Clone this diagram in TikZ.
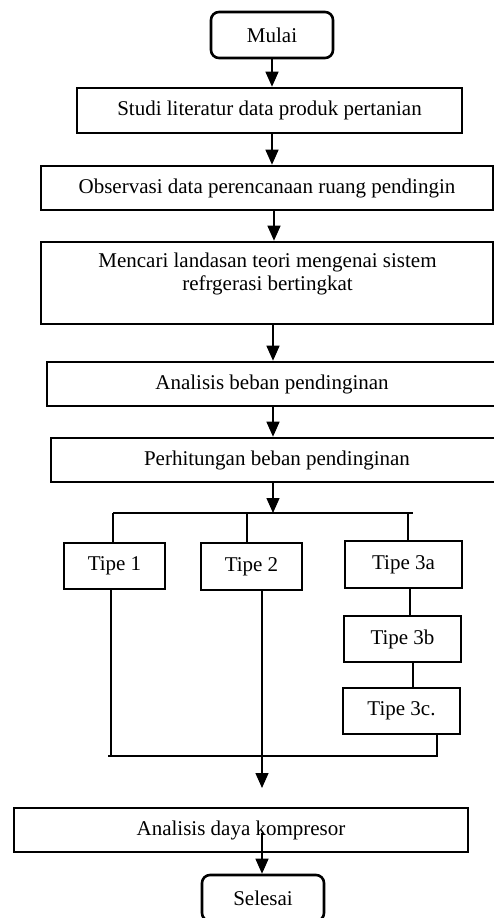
\documentclass[tikz,border=0pt]{standalone}
\usepackage{fontspec}
\setmainfont{Liberation Serif}
\usetikzlibrary{arrows.meta}
\begin{document}
\begin{tikzpicture}[x=1pt,y=-1pt,
  txt/.style={font=\fontsize{21}{23}\selectfont, inner sep=0pt},
  boxx/.style={draw, line width=2.6pt, inner sep=0pt, font=\fontsize{21}{23}\selectfont},
  termbox/.style={boxx, rounded corners=8pt},
  flow/.style={line width=1.3pt, -{Triangle[width=13pt,length=15pt]}},
  link/.style={line width=1.1pt}]
\useasboundingbox (0,0) rectangle (494,918);
\clip (0,0) rectangle (494,918);
% nodes
\node[termbox, minimum width=122pt, minimum height=46pt] (mulai) at (272,35) {Mulai};
\node[boxx, minimum width=385pt, minimum height=45pt] (studi) at (269.5,110.5) {Studi literatur data produk pertanian};
\node[boxx, minimum width=452pt, minimum height=44pt] (obs) at (267,188) {Observasi data perencanaan ruang pendingin};
\node[boxx, minimum width=452pt, minimum height=82pt] (mencari) at (267,283) {};
\node[txt, align=center] (mencaritxt) at (267.5,274) {Mencari landasan teori mengenai sistem\\refrgerasi bertingkat};
\node[boxx, minimum width=450pt, minimum height=44pt] (anbeban) at (272,384) {Analisis beban pendinginan};
\node[boxx, minimum width=452pt, minimum height=44pt] (perhit) at (277,460) {Perhitungan beban pendinginan};
\node[boxx, minimum width=101pt, minimum height=46pt] (tipea) at (114.5,566) {Tipe 1};
\node[boxx, minimum width=101pt, minimum height=47pt] (tipeb) at (251.5,566.5) {Tipe 2};
\node[boxx, minimum width=117pt, minimum height=47pt] (tipeca) at (403.5,564.5) {Tipe 3a};
\node[boxx, minimum width=117pt, minimum height=46pt] (tipecb) at (402.5,639) {Tipe 3b};
\node[boxx, minimum width=117pt, minimum height=46pt] (tipecc) at (401.5,711) {Tipe 3c.};
\node[boxx, minimum width=454pt, minimum height=44pt] (andaya) at (241,830) {Analisis daya kompresor};
\node[termbox, minimum width=122pt, minimum height=46pt] (selesai) at (263,898) {Selesai};
% coordinates
\coordinate (split) at (273,513);
\coordinate (splitL) at (113,513);
\coordinate (splitR) at (413,513);
\coordinate (joinY) at (0,756);
\coordinate (joinL) at (108,756);
\coordinate (arrtip) at (262,788);
\coordinate (dayastart) at (262,833);
% main flow arrows
\draw[flow] (mulai.south) -- (studi.north -| mulai.south);
\draw[flow] (studi.south -| mulai.south) -- (obs.north -| mulai.south);
\draw[flow] (obs.south -| 274,0) -- (mencari.north -| 274,0);
\draw[flow] (mencari.south -| 273,0) -- (anbeban.north -| 273,0);
\draw[flow] (anbeban.south -| 273,0) -- (perhit.north -| 273,0);
\draw[flow] (perhit.south -| split) -- (split);
% distribution
\draw[link] (splitL) -- (splitR);
\draw[link] (splitL) -- (tipea.north -| splitL);
\draw[link] (tipeb.north -| 247,0) -- (247,513);
\draw[link] (tipeca.north -| 408,0) -- (408,513);
\draw[link] (tipeca.south -| 410,0) -- (tipecb.north -| 410,0);
\draw[link] (tipecb.south -| 413,0) -- (tipecc.north -| 413,0);
% join
\draw[link] (tipecc.south -| 437,0) -- (joinY -| 437,0) -- (joinL);
\draw[link] (tipea.south -| 111,0) -- (joinY -| 111,0);
\draw[flow] (tipeb.south -| arrtip) -- (arrtip);
\draw[flow] (dayastart) -- (selesai.north -| dayastart);
\end{tikzpicture}
\end{document}
